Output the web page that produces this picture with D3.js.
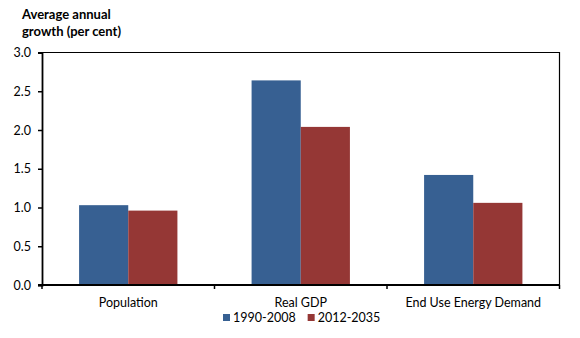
<!DOCTYPE html>
<html>
<head>
<meta charset="utf-8">
<title>Average annual growth</title>
<script src="https://d3js.org/d3.v7.min.js"></script>
<style>
  body { margin: 0; background: #fff; }
  text { font-family: Lato, "Open Sans", sans-serif; fill: #000; }
</style>
</head>
<body>
<div id="chart"></div>
<script>
// data
var categories = ["Population", "Real GDP", "End Use Energy Demand"]
var seriesNames = ["1990-2008", "2012-2035"]
var hist = [1.03, 2.64, 1.42]
var proj = [0.96, 2.04, 1.06]
var yTicks = [0, 0.5, 1.0, 1.5, 2.0, 2.5, 3.0]
var colors = ["#376092", "#953735"]

var W = 580, H = 338
var pLeft = 42, pRight = 559.5, pTop = 52.5, pBottom = 285

var svg = d3.select("#chart").append("svg")
    .attr("width", W).attr("height", H)

// axis title
svg.append("text").attr("x", 22).attr("y", 19)
    .style("font-size", "13px").style("font-weight", "bold")
    .text("Average annual")
svg.append("text").attr("x", 22).attr("y", 36)
    .style("font-size", "13px").style("font-weight", "bold")
    .text("growth (per cent)")

var y = d3.scaleLinear().domain([0, 3]).range([pBottom, pTop])

var x0 = d3.scaleBand().domain(categories).range([pLeft, pRight])
    .paddingInner(0.43).paddingOuter(0.215)
var x1 = d3.scaleBand().domain(seriesNames).range([0, x0.bandwidth()])

// bars
var rows = categories.map(function (c, i) { return {cat: c, vals: [hist[i], proj[i]]} })
var g = svg.selectAll("g.cat").data(rows).enter().append("g")
    .attr("class", "cat")
    .attr("transform", function (d) { return "translate(" + x0(d.cat) + ",0)" })
g.selectAll("rect").data(function (d) { return d.vals.map(function (v, j) { return {s: seriesNames[j], v: v, j: j} }) })
    .enter().append("rect")
    .attr("x", function (d) { return x1(d.s) })
    .attr("width", x1.bandwidth())
    .attr("y", function (d) { return y(d.v) })
    .attr("height", function (d) { return pBottom - y(d.v) })
    .attr("fill", function (d) { return colors[d.j] })

// plot frame (top and right)
svg.append("path")
    .attr("d", "M" + pLeft + "," + pTop + "H" + pRight + "V" + pBottom)
    .attr("fill", "none").attr("stroke", "#000").attr("stroke-width", 1.2)

// y axis
var yAxis = svg.append("g").attr("transform", "translate(" + pLeft + ",0)")
    .call(d3.axisLeft(y).tickValues(yTicks).tickFormat(d3.format(".1f")).tickSizeOuter(0).tickSize(4).tickPadding(7))
yAxis.select(".domain").attr("stroke-width", 1.8)
yAxis.selectAll(".tick line").attr("stroke-width", 1.5)
yAxis.selectAll("text").style("font-size", "12.5px").style("font-family", "Lato, sans-serif")

// x axis: line with ticks at category boundaries
svg.append("line").attr("x1", pLeft - 4).attr("x2", pRight)
    .attr("y1", pBottom).attr("y2", pBottom)
    .attr("stroke", "#000").attr("stroke-width", 1.8)
var step = x0.step()
d3.range(categories.length + 1).forEach(function (i) {
    var bx = pLeft + i * step
    svg.append("line").attr("x1", bx).attr("x2", bx)
        .attr("y1", pBottom).attr("y2", pBottom + 4)
        .attr("stroke", "#000").attr("stroke-width", 1.5)
})
svg.selectAll("text.catlabel").data(categories).enter().append("text")
    .attr("class", "catlabel")
    .attr("x", function (d) { return x0(d) + x0.bandwidth() / 2 })
    .attr("y", 307)
    .attr("text-anchor", "middle")
    .style("font-size", "12.5px")
    .text(function (d) { return d })

// legend, items laid out one after the other
var lx = 223
seriesNames.forEach(function (s, i) {
    svg.append("rect").attr("x", lx).attr("y", 314).attr("width", 7).attr("height", 7)
        .attr("fill", colors[i])
    var t = svg.append("text").attr("x", lx + 10).attr("y", 322)
        .style("font-size", "12.5px").text(s)
    lx += 10 + t.node().getComputedTextLength() + 12
})
</script>
</body>
</html>
